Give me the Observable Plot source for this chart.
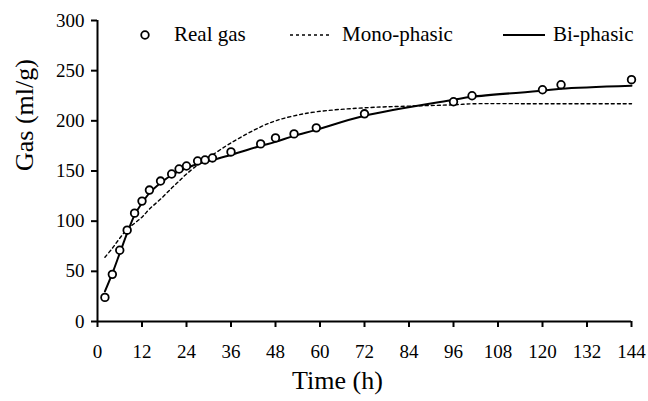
<!DOCTYPE html>
<html>
<head>
<meta charset="utf-8">
<script src="https://cdn.jsdelivr.net/npm/d3@7"></script>
<script src="https://cdn.jsdelivr.net/npm/@observablehq/plot@0.6"></script>
<style>
  html, body { margin: 0; padding: 0; background: white; }
  #chart svg, #chart svg text { font-family: "Liberation Serif", "Times New Roman", serif !important; }
</style>
</head>
<body>
<div id="chart"></div>
<script>
const time = [2, 4, 6, 8, 10, 12, 14, 17, 20, 22, 24, 27, 29, 31, 36, 44, 48, 53, 59, 72, 96, 101, 120, 125, 144];
const realGas = [24, 47, 71, 91, 108, 120, 131, 140, 147, 152, 155, 160, 161, 163, 169, 177, 183, 187, 193, 207, 219, 225, 231, 236, 241];
const monoPhasic = [64, 73, 83, 92, 98, 104, 112, 122, 133, 140, 147, 156, 161, 166, 178, 194, 200, 205, 209, 213, 216, 217, 217, 217, 217];
const biPhasic = [30, 48, 68, 88, 106, 118, 128, 138, 146, 150, 153, 157, 159, 161, 166, 175, 179, 185, 191, 205, 221, 224, 230, 232, 235];
const xTicks = [0, 12, 24, 36, 48, 60, 72, 84, 96, 108, 120, 132, 144];
const yTicks = [0, 50, 100, 150, 200, 250, 300];
const seriesNames = ["Real gas", "Mono-phasic", "Bi-phasic"];
const xLabel = "Time (h)";
const yLabel = "Gas (ml/g)";

const rows = time.map((t, i) => ({t, real: realGas[i], mono: monoPhasic[i], bi: biPhasic[i]}));
const font = "Liberation Serif";

const chart = Plot.plot({
  width: 648,
  height: 401,
  marginLeft: 97,
  marginRight: 17,
  marginTop: 20,
  marginBottom: 80,
  x: {domain: [0, 144]},
  y: {domain: [0, 300]},
  style: {fontFamily: font, fontSize: "19px", color: "black", background: "white"},
  marks: [
    Plot.axisX({ticks: xTicks, tickSize: 6, tickPadding: 17, fontSize: 19, fontFamily: font, label: null, strokeWidth: 2}),
    Plot.axisY({ticks: yTicks, tickSize: 6, tickPadding: 7, fontSize: 19, fontFamily: font, label: null, strokeWidth: 2}),
    Plot.ruleX([0], {y1: 0, y2: 300, stroke: "black", strokeWidth: 2}),
    Plot.ruleY([0], {x1: 0, x2: 144, stroke: "black", strokeWidth: 2}),
    Plot.line(rows, {x: "t", y: "mono", stroke: "black", strokeWidth: 1.4, strokeDasharray: "3,3", curve: "catmull-rom"}),
    Plot.line(rows, {x: "t", y: "bi", stroke: "black", strokeWidth: 2, curve: "catmull-rom"}),
    Plot.dot(rows, {x: "t", y: "real", r: 3.8, stroke: "black", strokeWidth: 1.8, fill: "white"}),
    Plot.text([xLabel], {text: d => d, frameAnchor: "bottom", dy: 67, dx: -27, fontSize: 26, fontFamily: font}),
    Plot.text([yLabel], {text: d => d, frameAnchor: "left", dx: -73, rotate: -90, fontSize: 26, fontFamily: font})
  ]
});

// Legend inside the plot area (pixel layout)
const svg = d3.select(chart);
const lg = svg.append("g").attr("font-family", font).attr("font-size", 21)
  .attr("fill", "black").attr("text-anchor", "start");
lg.append("circle").attr("cx", 145).attr("cy", 35).attr("r", 3.8)
  .attr("fill", "white").attr("stroke", "black").attr("stroke-width", 1.8);
lg.append("text").attr("x", 174).attr("y", 40.5).text(seriesNames[0]);
lg.append("line").attr("x1", 290).attr("x2", 332).attr("y1", 35).attr("y2", 35)
  .attr("stroke", "black").attr("stroke-width", 1.4).attr("stroke-dasharray", "3,3");
lg.append("text").attr("x", 342).attr("y", 40.5).text(seriesNames[1]);
lg.append("line").attr("x1", 503).attr("x2", 545).attr("y1", 35).attr("y2", 35)
  .attr("stroke", "black").attr("stroke-width", 2);
lg.append("text").attr("x", 553).attr("y", 40.5).text(seriesNames[2]);

document.getElementById("chart").appendChild(chart);
</script>
</body>
</html>
